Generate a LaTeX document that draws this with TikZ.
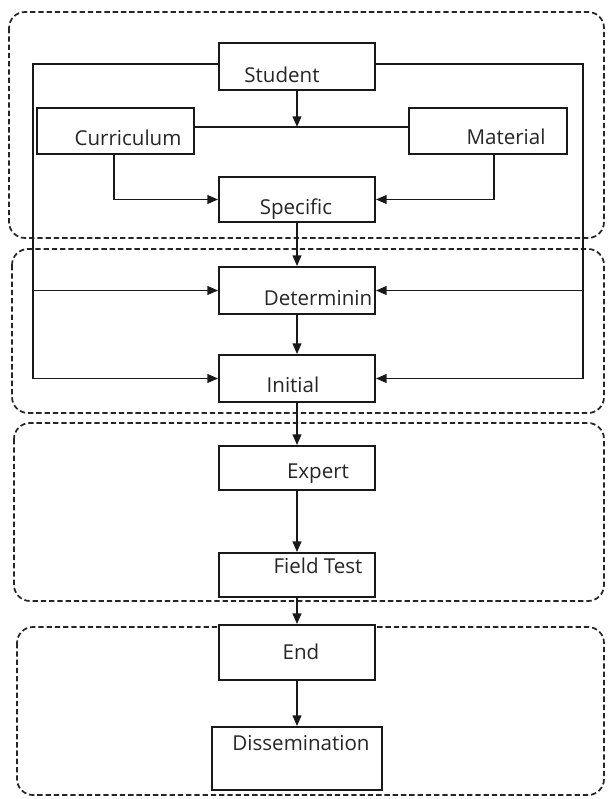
\documentclass[tikz,border=0pt]{standalone}
\usepackage{fontspec}
\setmainfont{Open Sans}
\usetikzlibrary{arrows.meta,fit}
\begin{document}
\begin{tikzpicture}[x=0.75pt,y=-0.75pt,
  box/.style={draw=black!90, fill=white, line width=1.35pt, inner sep=0pt},
  grp/.style={draw=black!85, line width=1.3pt, dash pattern=on 4pt off 2.2pt, rounded corners=12pt},
  lbl/.style={text=black!85, font=\fontsize{15.4}{18}\selectfont, inner sep=0pt, anchor=base},
  conn/.style={line width=1.35pt, draw=black!90},
  arr/.style={conn, -{Triangle[length=8pt,width=6.5pt]}}]
\useasboundingbox (0,0) rectangle (607,799);
% group frames
\draw[grp] (9,12) rectangle (604,238);
\draw[grp] (12,249) rectangle (604,413);
\draw[grp] (14,423) rectangle (604,601);
\draw[grp] (17,627) rectangle (604,795);
% boxes
\node[box, fit={(219,43)(375,90)}] (stud) {};
\node[box, fit={(37,108)(194,154)}] (cur) {};
\node[box, fit={(409,108)(567,154)}] (mat) {};
\node[box, fit={(219,177)(375,222)}] (spec) {};
\node[box, fit={(219,267)(375,314)}] (det) {};
\node[box, fit={(219,355)(375,402)}] (ini) {};
\node[box, fit={(219,446)(375,490)}] (exp) {};
\node[box, fit={(219,553)(375,597)}] (fld) {};
\node[box, fit={(219,625)(375,680)}] (end) {};
\node[box, fit={(212,727)(382,790)}] (dis) {};
% labels
\node[lbl] (tstud) at (282,83) {Student};
\node[lbl] (tcur) at (128,145) {Curriculum};
\node[lbl] (tmat) at (506,144) {Material};
\node[lbl] (tspec) at (296,214) {Specific};
\node[lbl] (tdet) at (318,305) {Determinin};
\node[lbl] (tini) at (293,392) {Initial};
\node[lbl] (texp) at (318,478) {Expert};
\node[lbl] (tfld) at (318,573) {Field Test};
\node[lbl] (tend) at (301,659) {End};
\node[lbl] (tdis) at (301,750) {Dissemination};
% helper coordinates
\coordinate (L) at (33,64);
\coordinate (R) at (583,64);
\coordinate (M) at (297,127);
% connectors
\draw[arr] (stud.west |- L) -- (L) -- (L |- ini.west) -- (ini.west);
\draw[arr] (stud.east |- R) -- (R) -- (R |- ini.east) -- (ini.east);
\draw[arr] (L |- det.west) -- (det.west);
\draw[arr] (R |- det.east) -- (det.east);
\draw[arr] (stud.south) -- (stud.south |- M);
\draw[conn] (cur.east |- M) -- (mat.west |- M);
\draw[arr] ([xshift=-1pt]cur.south) -- ([xshift=-1pt]cur.south |- spec.west) -- (spec.west);
\draw[arr] ([xshift=4.5pt]mat.south) -- ([xshift=4.5pt]mat.south |- spec.east) -- (spec.east);
\draw[arr] (spec.south) -- (det.north);
\draw[arr] (det.south) -- (ini.north);
\draw[arr] (ini.south) -- (exp.north);
\draw[arr] (exp.south) -- (fld.north);
\draw[arr] (fld.south) -- (end.north);
\draw[arr] (end.south) -- (end.south |- dis.north);
\end{tikzpicture}
\end{document}
